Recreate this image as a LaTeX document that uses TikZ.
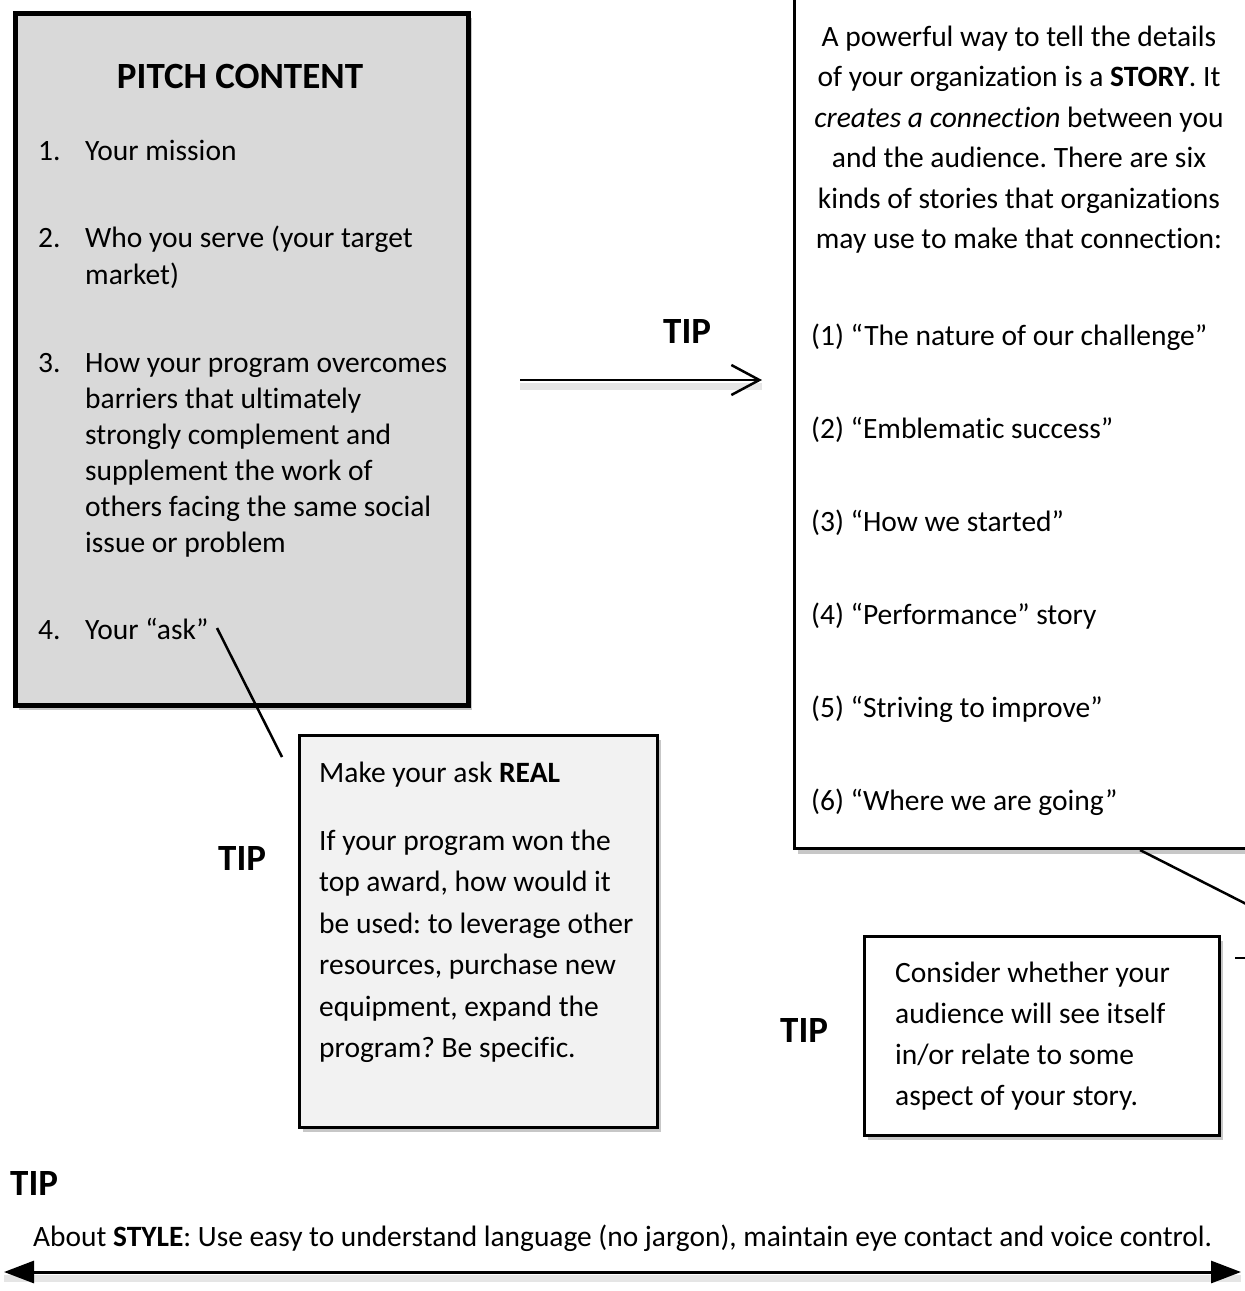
\documentclass[tikz,border=0pt]{standalone}
\usepackage{fontspec}
\setmainfont{Carlito}[Ligatures=NoCommon]
\frenchspacing
\usetikzlibrary{arrows.meta,shadows}
\definecolor{pitchgray}{HTML}{D9D9D9}
\definecolor{askgray}{HTML}{F2F2F2}
\begin{document}
\begin{tikzpicture}[x=1pt,y=-1pt,
  body/.style={inner sep=0pt, anchor=base west, font=\fontsize{29.5}{36}\selectfont},
  bodyc/.style={inner sep=0pt, anchor=base, font=\fontsize{29.5}{36}\selectfont},
  tiplabel/.style={inner sep=0pt, anchor=base west, font=\fontsize{37}{44}\selectfont\bfseries},
  boxshadow/.style={drop shadow={shadow xshift=4pt, shadow yshift=-5pt, opacity=0.22, fill=black}},
  panel/.style={draw=black, rectangle, anchor=north west, inner sep=0pt},
  linkline/.style={draw=black, line width=2.5pt},
  lineshadow/.style={draw=black, opacity=0.10, line width=7pt},
]
\useasboundingbox (0,0) rectangle (1245,1291);
\fill[white] (0,0) rectangle (1245,1291);
\begin{scope}
\clip (0,0) rectangle (1245,1291);

% ---------- boxes ----------
\node[panel, boxshadow, fill=pitchgray, line width=5pt, minimum width=453pt, minimum height=692pt] (pitch) at (12.5,10.5) {};
\node[panel, boxshadow, fill=white, line width=3pt, minimum width=478pt, minimum height=877pt] (story) at (792.5,-30) {};
\node[panel, boxshadow, fill=askgray, line width=2.5pt, minimum width=358pt, minimum height=392pt] (ask) at (298,734) {};
\node[panel, boxshadow, fill=white, line width=2.5pt, minimum width=355pt, minimum height=199pt] (consider) at (863,935) {};

% ---------- pitch content ----------
\node[inner sep=0pt, anchor=base, font=\fontsize{37}{44}\selectfont\bfseries] (pitchtitle) at (240,88) {PITCH CONTENT};
\node[body] (n1) at (38,160) {1.};
\node[body] (i1) at (85,160) {Your mission};
\node[body] (n2) at (38,247) {2.};
\node[body] (i2a) at (85,247) {Who you serve (your target};
\node[body] (i2b) at (85,284) {market)};
\node[body] (n3) at (38,372) {3.};
\node[body] (i3a) at (85,372) {How your program overcomes};
\node[body] (i3b) at (85,408) {barriers that ultimately};
\node[body] (i3c) at (85,444) {strongly complement and};
\node[body] (i3d) at (85,480) {supplement the work of};
\node[body] (i3e) at (85,516) {others facing the same social};
\node[body] (i3f) at (85,552) {issue or problem};
\node[body] (n4) at (38,639) {4.};
\node[body] (i4) at (85,639) {Your “ask”};

% ---------- story box text ----------
\node[bodyc] (s1) at (1019,46) {A powerful way to tell the details};
\node[bodyc] (s2) at (1019,86.5) {of your organization is a \textbf{STORY}. It};
\node[bodyc] (s3) at (1019,127) {\textit{creates a connection} between you};
\node[bodyc] (s4) at (1019,167.5) {and the audience. There are six};
\node[bodyc] (s5) at (1019,208) {kinds of stories that organizations};
\node[bodyc] (s6) at (1019,248.5) {may use to make that connection:};
\node[body] (k1) at (811,345) {(1) “The nature of our challenge”};
\node[body] (k2) at (811,438) {(2) “Emblematic success”};
\node[body] (k3) at (811,531) {(3) “How we started”};
\node[body] (k4) at (811,624) {(4) “Performance” story};
\node[body] (k5) at (811,717) {(5) “Striving to improve”};
\node[body] (k6) at (811,810) {(6) “Where we are going”};

% ---------- ask box text ----------
\node[body] (a0) at (319,782) {Make your ask \textbf{REAL}};
\node[body] (a1) at (319,850) {If your program won the};
\node[body] (a2) at (319,891.5) {top award, how would it};
\node[body] (a3) at (319,933) {be used: to leverage other};
\node[body] (a4) at (319,974.5) {resources, purchase new};
\node[body] (a5) at (319,1016) {equipment, expand the};
\node[body] (a6) at (319,1057.5) {program? Be specific.};

% ---------- consider box text ----------
\node[body] (c1) at (895,982) {Consider whether your};
\node[body] (c2) at (895,1023) {audience will see itself};
\node[body] (c3) at (895,1064) {in/or relate to some};
\node[body] (c4) at (895,1105) {aspect of your story.};

% ---------- TIP labels ----------
\node[tiplabel] (tip1) at (663,343) {TIP};
\node[tiplabel] (tip2) at (218,870) {TIP};
\node[tiplabel] (tip3) at (780,1042) {TIP};
\node[tiplabel] (tip4) at (10,1195) {TIP};

\node[inner sep=0pt, anchor=base west, font=\fontsize{29.5}{36}\selectfont] (style) at (33,1246)
  {\resizebox{1179pt}{\height}{About \textbf{STYLE}: Use easy to understand language (no jargon), maintain eye contact and voice control.}};

% ---------- connectors ----------
\coordinate (askA) at (217,628);
\coordinate (askB) at (282,757);
\draw[linkline] (askA) -- (askB);

\coordinate (tailA) at (1140,850);
\coordinate (tailB) at (1262,912);
\draw[linkline] (tailA) -- (tailB);
\coordinate (tickA) at (1235,958);
\coordinate (tickB) at (1250,958);
\draw[linkline] (tickA) -- (tickB);

\coordinate (arrA) at (520,380);
\coordinate (arrB) at (762,380);
\draw[lineshadow] ([yshift=-6pt]arrA) -- ([yshift=-6pt]arrB);
\draw[black, line width=2.5pt, -{Straight Barb[length=28pt,width=30pt,line width=2.5pt]}] (arrA) -- (arrB);

\coordinate (botA) at (4,1272);
\coordinate (botB) at (1241,1272);
\draw[lineshadow] ([yshift=-6pt]botA) -- ([yshift=-6pt]botB);
\draw[black, line width=3pt, {Triangle[length=30pt,width=22pt]}-{Triangle[length=30pt,width=22pt]}] (botA) -- (botB);
\end{scope}
\end{tikzpicture}
\end{document}
